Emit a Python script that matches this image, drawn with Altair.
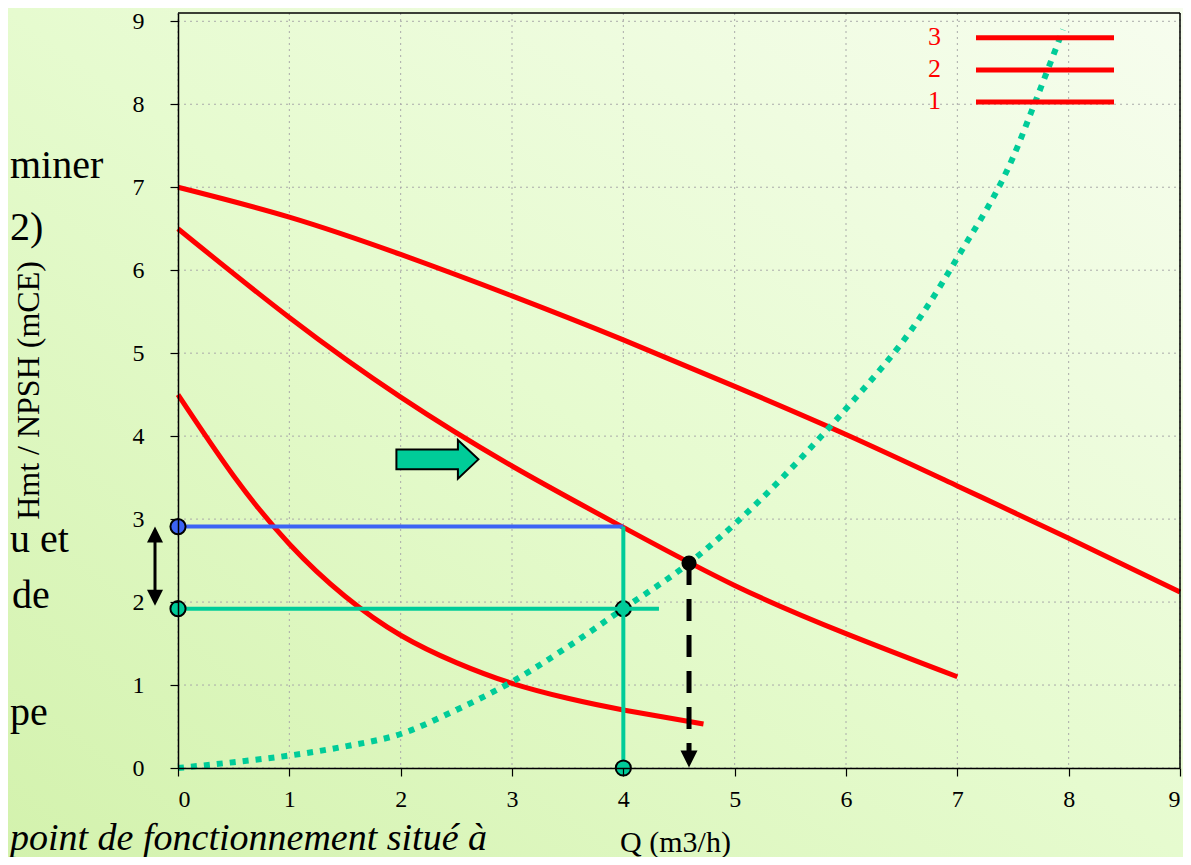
import altair as alt
import pandas as pd

# ---------------- data ----------------
# pump curves (Q m3/h -> Hmt mCE)
q_c1 = [0, 0.5, 1, 1.5, 2, 2.5, 3, 3.5, 4, 4.72]
h_c1 = [4.5, 3.52, 2.70, 2.07, 1.6, 1.27, 1.02, 0.84, 0.70, 0.53]
q_c2 = [0, 1, 2, 3, 4, 5, 6, 7]
h_c2 = [6.5, 5.43, 4.47, 3.64, 2.90, 2.20, 1.62, 1.1]
q_c3 = [0, 1, 2, 3, 4, 5, 6, 7, 8, 9]
h_c3 = [7.0, 6.64, 6.19, 5.69, 5.16, 4.60, 4.02, 3.40, 2.77, 2.12]
# network curve (dotted)
q_net = [0, 0.5, 1, 1.5, 2, 2.5, 3, 3.5, 4, 4.59, 5, 5.86, 6, 6.67, 7, 7.5, 7.7, 7.95]
h_net = [0, 0.07, 0.15, 0.26, 0.41, 0.70, 1.04, 1.46, 1.92, 2.47, 2.94, 4.12, 4.33, 5.44, 6.15, 7.36, 8.03, 8.9]
# reading lines / points
h_blue = 2.91
h_green = 1.92
q_read = 4.0
q_green_end = 4.32
q_op = 4.59
h_op = 2.47
legend_labels = ["3", "2", "1"]
ticks = list(range(10))
slide_texts = ["miner", "2)", "u et", "de", "pe"]
slide_bottom = "point de fonctionnement situé à"

# ---------------- layout ----------------
W, H = 1002, 755
SVG_W, SVG_H = 1175, 849
PAD = {"left": 170, "top": 5, "right": SVG_W - 170 - W, "bottom": SVG_H - 5 - H}

RED = "#ff0000"
GREEN = "#00cc99"
BLUE = "#3c64f4"
FONT = "Liberation Serif"

xs = alt.Scale(domain=[0, 9], nice=False, zero=False)
ys = alt.Scale(domain=[0, 9.1], nice=False, zero=False)
xax = alt.Axis(values=ticks, title="Q (m3/h)", grid=False, zindex=1,
               titleX=497, titleY=74, titleAlign="center", titleBaseline="middle",
               titleFontSize=30, titleFontWeight="normal")
yax = alt.Axis(values=ticks, title="Hmt / NPSH (mCE)", grid=False, zindex=1,
               titleX=-150, titleY=377, titleAngle=-90, titleAlign="center",
               titleBaseline="middle", titleFontSize=32, titleFontWeight="normal",
               labelPadding=26)


def X(f):
    return alt.X(f, type="quantitative", scale=xs, axis=xax)


def Y(f):
    return alt.Y(f, type="quantitative", scale=ys, axis=yax)


one = pd.DataFrame({"k": [0]})

# background gradient
bg = alt.Chart(one).mark_rect(
    fill=alt.Gradient(
        gradient="linear",
        stops=[alt.GradientStop(color="#d3f2ad", offset=0),
               alt.GradientStop(color="#e6fbcf", offset=0.5),
               alt.GradientStop(color="#f7fdef", offset=1)],
        x1=0, y1=1, x2=1, y2=0),
).encode(x=alt.value(-PAD["left"]), x2=alt.value(W + PAD["right"]),
         y=alt.value(-PAD["top"]), y2=alt.value(H + PAD["bottom"]))

# grid (dotted)
grid_df = pd.DataFrame({"t": ticks})
vgrid = alt.Chart(grid_df).mark_rule(color="#aaaaaa", strokeWidth=1, strokeDash=[2, 4]).encode(
    x=X("t"), y=alt.value(0), y2=alt.value(H))
hgrid = alt.Chart(grid_df).mark_rule(color="#aaaaaa", strokeWidth=1, strokeDash=[2, 4]).encode(
    y=Y("t"), x=alt.value(0), x2=alt.value(W))

# frame top / right
frame_top = alt.Chart(one).mark_rule(color="black", strokeWidth=1.5).encode(
    x=alt.value(0), x2=alt.value(W), y=alt.value(0))
frame_right = alt.Chart(one).mark_rule(color="black", strokeWidth=1.5).encode(
    x=alt.value(W), y=alt.value(0), y2=alt.value(H))

# pump curves
curves = pd.concat([
    pd.DataFrame({"q": q_c1, "h": h_c1, "c": "1"}),
    pd.DataFrame({"q": q_c2, "h": h_c2, "c": "2"}),
    pd.DataFrame({"q": q_c3, "h": h_c3, "c": "3"}),
])
pump = alt.Chart(curves).mark_line(color=RED, strokeWidth=5, interpolate="natural").encode(
    x=X("q"), y=Y("h"), detail="c:N")

net = alt.Chart(pd.DataFrame({"q": q_net, "h": h_net})).mark_line(
    color=GREEN, strokeWidth=6, strokeDash=[6, 7], interpolate="monotone").encode(
    x=X("q"), y=Y("h"))

# reading lines
mid_pt = alt.Chart(pd.DataFrame({"q": [q_read], "h": [h_green]})).mark_point(
    filled=True, fill=GREEN, stroke="black", strokeWidth=2, size=230, opacity=1).encode(
    x=X("q"), y=Y("h"))
blue_line = alt.Chart(pd.DataFrame({"q": [0], "q2": [q_read], "h": [h_blue]})).mark_rule(
    color=BLUE, strokeWidth=4).encode(x=X("q"), x2="q2", y=Y("h"))
green_h = alt.Chart(pd.DataFrame({"q": [0], "q2": [q_green_end], "h": [h_green]})).mark_rule(
    color=GREEN, strokeWidth=4).encode(x=X("q"), x2="q2", y=Y("h"))
green_v = alt.Chart(pd.DataFrame({"q": [q_read], "h": [0], "h2": [h_blue]})).mark_rule(
    color=GREEN, strokeWidth=4).encode(x=X("q"), y=Y("h"), y2="h2")

pts = pd.DataFrame({"q": [0, 0, q_read], "h": [h_blue, h_green, 0], "k": ["b", "g", "g"]})
circles = alt.Chart(pts).mark_point(filled=True, stroke="black", strokeWidth=2, size=230, opacity=1).encode(
    x=X("q"), y=Y("h"),
    fill=alt.Fill("k:N", scale=alt.Scale(domain=["b", "g"], range=[BLUE, GREEN]), legend=None))

# operating point and dashed arrow
op_df = pd.DataFrame({"q": [q_op], "h": [h_op], "h0": [0]})
dash = alt.Chart(op_df).mark_rule(color="black", strokeWidth=5, strokeDash=[22, 14], y2Offset=-14).encode(
    x=X("q"), y=Y("h"), y2="h0")
TRI_DOWN = "M -1 -1 L 1 -1 L 0 1 Z"
TRI_UP = "M 0 -1 L 1 1 L -1 1 Z"
head_down = alt.Chart(op_df).mark_point(shape=TRI_DOWN, filled=True, color="black", size=289,
                                        opacity=1, yOffset=-9).encode(x=X("q"), y=Y("h0"))
op_pt = alt.Chart(op_df).mark_point(filled=True, color="black", size=230, opacity=1).encode(
    x=X("q"), y=Y("h"))

# double arrow left of the axis (between the two levels)
lv = pd.DataFrame({"h": [h_blue], "h2": [h_green]})
darrow = alt.Chart(lv).mark_rule(color="black", strokeWidth=3, yOffset=12, y2Offset=-14).encode(
    x=alt.value(-23), y=Y("h"), y2="h2")
dhead_up = alt.Chart(lv).mark_point(shape=TRI_UP, filled=True, color="black", size=256, opacity=1,
                                    yOffset=8).encode(x=alt.value(-23), y=Y("h"))
dhead_dn = alt.Chart(lv).mark_point(shape=TRI_DOWN, filled=True, color="black", size=256, opacity=1,
                                    yOffset=-11).encode(x=alt.value(-23), y=Y("h2"))

# block arrow
BLOCK = "M -1 -0.24 L 0.5 -0.24 L 0.5 -0.47 L 1 0 L 0.5 0.47 L 0.5 0.24 L -1 0.24 Z"
block = alt.Chart(pd.DataFrame({"q": [2.33], "h": [3.72]})).mark_point(
    shape=BLOCK, filled=True, fill=GREEN, stroke="black", strokeWidth=2, size=6724, opacity=1).encode(
    x=X("q"), y=Y("h"))

# legend
leg_y = [24.7, 57, 89]
leg_layers = []
for lab, yy in zip(legend_labels, leg_y):
    leg_layers.append(alt.Chart(one).mark_rule(color=RED, strokeWidth=5).encode(
        x=alt.value(798), x2=alt.value(936), y=alt.value(yy)))
    leg_layers.append(alt.Chart(one).mark_text(color=RED, font=FONT, fontSize=26, align="right",
                                               baseline="middle").encode(
        x=alt.value(763), y=alt.value(yy - 1), text=alt.value(lab)))

# slide text behind the chart
slide_pos = [(-168, 165), (-168, 227), (-168, 539), (-166, 595), (-168, 712)]
slide_layers = []
for t, (px, py) in zip(slide_texts, slide_pos):
    slide_layers.append(alt.Chart(one).mark_text(font=FONT, fontSize=40, align="left",
                                                 baseline="alphabetic", color="black").encode(
        x=alt.value(px), y=alt.value(py), text=alt.value(t)))
slide_layers.append(alt.Chart(one).mark_text(font=FONT, fontSize=38, fontStyle="italic", align="left",
                                             baseline="alphabetic", color="black").encode(
    x=alt.value(-168), y=alt.value(837), text=alt.value(slide_bottom)))

chart = alt.layer(
    bg, vgrid, hgrid, *slide_layers, pump, net, mid_pt, blue_line, green_h, green_v, circles,
    dash, head_down, op_pt, darrow, dhead_up, dhead_dn, block, *leg_layers, frame_top, frame_right,
).properties(
    width=W, height=H, padding=PAD, autosize=alt.AutoSizeParams(type="none"),
    background="#e6fbcf",
).configure_view(stroke=None).configure_axis(
    labelFont=FONT, labelFontSize=24, labelColor="black", titleFont=FONT, titleColor="black",
    tickColor="black", tickSize=8, tickWidth=1.2, domainColor="black", domainWidth=1.5,
    labelPadding=11,
)

chart.save("out.html", embed_options={"renderer": "svg", "actions": False})
